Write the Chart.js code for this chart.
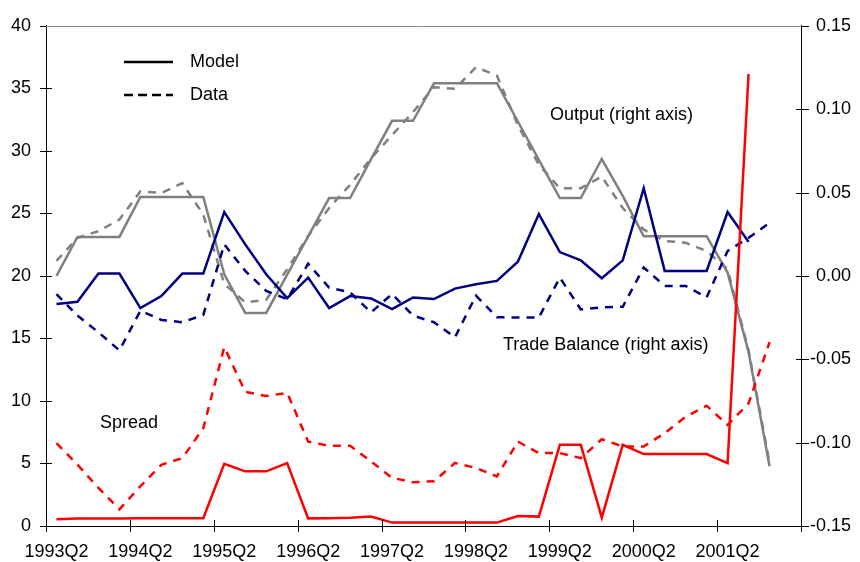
<!DOCTYPE html>
<html>
<head>
<meta charset="utf-8">
<script src="https://cdn.jsdelivr.net/npm/chart.js@4.4.1/dist/chart.umd.min.js"></script>
<style>
  body { margin: 0; background: #fff; }
  canvas { display: block; }
</style>
</head>
<body>
<canvas id="chart" width="860" height="562"></canvas>
<script>
// Quarters on the x axis (36 categories, labels shown every 4th)
const quarters = [
    '1993Q2', '1993Q3', '1993Q4', '1994Q1', '1994Q2', '1994Q3', '1994Q4', '1995Q1',
    '1995Q2', '1995Q3', '1995Q4', '1996Q1', '1996Q2', '1996Q3', '1996Q4', '1997Q1',
    '1997Q2', '1997Q3', '1997Q4', '1998Q1', '1998Q2', '1998Q3', '1998Q4', '1999Q1',
    '1999Q2', '1999Q3', '1999Q4', '2000Q1', '2000Q2', '2000Q3', '2000Q4', '2001Q1',
    '2001Q2', '2001Q3', '2001Q4', '2002Q1'
];

// Spread (left axis)
const spreadModel = [0.53, 0.6, 0.6, 0.6, 0.62, 0.62, 0.62, 0.62, 4.98, 4.37, 4.37, 5.03,
    0.61, 0.62, 0.65, 0.75, 0.27, 0.27, 0.27, 0.27, 0.27, 0.27, 0.8, 0.75,
    6.49, 6.49, 0.67, 6.49, 5.75, 5.75, 5.75, 5.75, 5.03, 36.15, null, null];
const spreadData = [6.62, 4.9, 3.05, 1.33, 3.18, 4.9, 5.43, 7.82, 14.3, 10.73, 10.39, 10.65,
    6.75, 6.41, 6.41, 5.17, 3.85, 3.5, 3.58, 5.04, 4.64, 3.97, 6.75, 5.83,
    5.83, 5.43, 6.94, 6.36, 6.36, 7.42, 8.74, 9.62, 8.08, 9.8, 14.7, null];

// Output (right axis)
const outputModel = [0.0, 0.0234, 0.0234, 0.0234, 0.0473, 0.0473, 0.0473, 0.0473, 0.001, -0.0222, -0.0222, 0.0008,
    0.0237, 0.0467, 0.0467, 0.070, 0.093, 0.093, 0.1156, 0.1156, 0.1156, 0.1156, 0.0926, 0.0696,
    0.0467, 0.0467, 0.0701, 0.048, 0.0238, 0.0238, 0.0238, 0.0238, 0.002, -0.0457, -0.1142, null];
const outputData = [0.009, 0.0228, 0.0268, 0.0338, 0.0507, 0.0497, 0.0556, 0.0368, -0.0048, -0.0159, -0.0143, 0.004,
    0.024, 0.0407, 0.0546, 0.0705, 0.0844, 0.0983, 0.1132, 0.1122, 0.1251, 0.1202, 0.0904, 0.0666,
    0.0526, 0.0526, 0.0596, 0.0407, 0.0278, 0.0209, 0.0199, 0.0149, 0.004, -0.0447, -0.1122, null];

// Trade balance (right axis)
const tradeModel = [-0.0169, -0.0155, 0.0014, 0.0014, -0.0193, -0.0121, 0.0014, 0.0014, 0.0383, 0.0189, 0.001, -0.0133,
    -0.001, -0.0193, -0.0121, -0.0135, -0.0199, -0.0129, -0.0139, -0.0076, -0.005, -0.003, 0.0085, 0.0371,
    0.0143, 0.0093, -0.0014, 0.0093, 0.0526, 0.003, 0.003, 0.003, 0.0383, 0.0204, null, null];
const tradeData = [-0.0109, -0.0238, -0.0338, -0.0447, -0.0209, -0.0264, -0.0278, -0.0234, 0.0189, 0.003, -0.009, -0.014,
    0.0073, -0.007, -0.0099, -0.0219, -0.0109, -0.0238, -0.0278, -0.0368, -0.0119, -0.0248, -0.025, -0.025,
    -0.001, -0.0201, -0.0189, -0.0185, 0.005, -0.006, -0.006, -0.0129, 0.0149, 0.0228, 0.0318, null];

const font = '"Liberation Sans", Arial, Helvetica, sans-serif';
const dash = [8, 7];

// Text labels drawn inside the plot
const notes = [
    { text: 'Output (right axis)', x: 550, y: 115 },
    { text: 'Trade Balance (right axis)', x: 503, y: 345 },
    { text: 'Spread', x: 100, y: 423 }
];

function line(label, data, color, dashed, axis) {
    return {
        label: label,
        data: data,
        yAxisID: axis,
        borderColor: color,
        borderWidth: 2.5,
        borderDash: dashed ? dash : [],
        pointRadius: 0,
        fill: false,
        tension: 0,
        spanGaps: false
    };
}

// Crossing tick marks, the top frame line, the legend and the notes
const decorations = {
    id: 'decorations',
    afterDraw(chart) {
        const { ctx, chartArea: a, scales } = chart;
        const x = scales.x, yL = scales.y, yR = scales.y1;
        ctx.save();
        ctx.strokeStyle = '#000';
        ctx.lineWidth = 1;
        ctx.beginPath();
        const step = (x.right - x.left) / quarters.length;
        for (let i = 0; i <= quarters.length; i += 4) {
            const px = Math.round(x.left + i * step) + 0.5;
            ctx.moveTo(px, a.bottom - 6);
            ctx.lineTo(px, a.bottom + 6);
        }
        yL.ticks.forEach(t => {
            const py = Math.round(yL.getPixelForValue(t.value)) + 0.5;
            ctx.moveTo(a.left - 6, py);
            ctx.lineTo(a.left + 6, py);
        });
        yR.ticks.forEach(t => {
            const py = Math.round(yR.getPixelForValue(t.value)) + 0.5;
            ctx.moveTo(a.right - 5, py);
            ctx.lineTo(a.right + 8, py);
        });
        ctx.stroke();

        ctx.strokeStyle = '#8a8a8a';
        ctx.beginPath();
        ctx.moveTo(a.left, Math.round(a.top) + 0.5);
        ctx.lineTo(a.right, Math.round(a.top) + 0.5);
        ctx.stroke();

        // legend
        ctx.strokeStyle = '#000';
        ctx.lineWidth = 2.5;
        ctx.beginPath();
        ctx.moveTo(124, 62);
        ctx.lineTo(173, 62);
        ctx.stroke();
        ctx.setLineDash([9, 5]);
        ctx.beginPath();
        ctx.moveTo(124, 95);
        ctx.lineTo(173, 95);
        ctx.stroke();
        ctx.setLineDash([]);

        ctx.fillStyle = '#000';
        ctx.font = '18px ' + font;
        ctx.textBaseline = 'middle';
        ctx.textAlign = 'left';
        ctx.fillText('Model', 190, 62);
        ctx.fillText('Data', 190, 95);
        notes.forEach(n => ctx.fillText(n.text, n.x, n.y));
        ctx.restore();
    }
};

const chart = new Chart(document.getElementById('chart'), {
    type: 'line',
    data: {
        labels: quarters,
        datasets: [
            line('Spread Model', spreadModel, '#ff0000', false, 'y'),
            line('Spread Data', spreadData, '#ff0000', true, 'y'),
            line('Trade Balance Model', tradeModel, '#000080', false, 'y1'),
            line('Trade Balance Data', tradeData, '#000080', true, 'y1'),
            line('Output Model', outputModel, '#808080', false, 'y1'),
            line('Output Data', outputData, '#808080', true, 'y1')
        ]
    },
    options: {
        responsive: false,
        animation: false,
        layout: { padding: { top: 22, left: 0, right: 9, bottom: 0 } },
        plugins: {
            legend: { display: false },
            tooltip: { enabled: false }
        },
        scales: {
            x: {
                offset: true,
                grid: { display: false, drawTicks: false },
                border: { color: '#000', width: 1 },
                ticks: {
                    autoSkip: false,
                    maxRotation: 0,
                    padding: 15,
                    color: '#000',
                    font: { family: font, size: 18 },
                    callback: (v, i) => (i % 4 === 0 ? quarters[i] : '')
                },
                afterFit: s => { s.height = 36; }
            },
            y: {
                position: 'left',
                min: 0,
                max: 40,
                grid: { display: false, drawTicks: false },
                border: { color: '#000', width: 1 },
                ticks: {
                    stepSize: 5,
                    padding: 15,
                    color: '#000',
                    font: { family: font, size: 18 }
                },
                afterFit: s => { s.width = 46; }
            },
            y1: {
                position: 'right',
                min: -0.15,
                max: 0.15,
                grid: { display: false, drawTicks: false },
                border: { color: '#000', width: 1 },
                ticks: {
                    stepSize: 0.05,
                    padding: 12,
                    crossAlign: 'far',
                    color: '#000',
                    font: { family: font, size: 18 },
                    callback: v => (Math.abs(v) < 1e-9 ? '0.00' : v.toFixed(2))
                },
                afterFit: s => { s.width = 50; }
            }
        }
    },
    plugins: [decorations]
});
</script>
</body>
</html>
